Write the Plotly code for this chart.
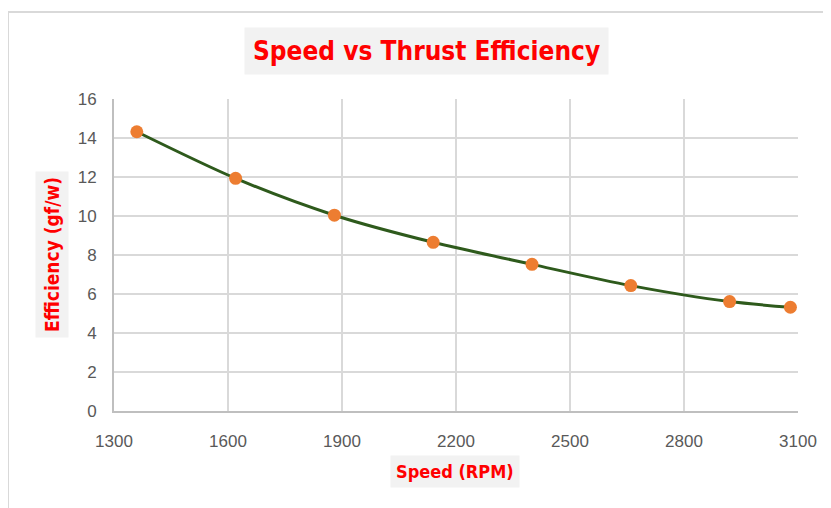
import plotly.graph_objects as go

speed_rpm = [1360, 1620, 1880, 2140, 2400, 2660, 2920, 3080]
efficiency = [14.32, 11.93, 10.04, 8.65, 7.52, 6.43, 5.61, 5.32]
x_ticks = [1300, 1600, 1900, 2200, 2500, 2800, 3100]
y_ticks = [0, 2, 4, 6, 8, 10, 12, 14, 16]

title_text = "Speed vs Thrust Efficiency"
x_title = "Speed (RPM)"
y_title = "Efficiency (gf/w)"

narrow = "Liberation Sans Narrow, Arial Narrow, DejaVu Sans Condensed, sans-serif"
tickfont = dict(family="Liberation Sans, Arial, sans-serif", size=17, color="#595959")

# page body has an 8px margin; compensate so the plot lands where the reference has it
OFF = 8
L, T, R, B = 114, 99, 798, 411  # plot area in window pixels
W = R - L
H = B - T


def px(xw):
    return (xw - L) / W


def py(yw):
    return (B - yw) / H


fig = go.Figure()
fig.add_trace(go.Scatter(
    x=speed_rpm, y=efficiency, mode="lines+markers",
    line=dict(color="#2e5a1c", width=3, shape="spline", smoothing=0.8),
    marker=dict(color="#ED7D31", size=13),
    showlegend=False,
))

fig.update_layout(
    width=831 - OFF, height=508 - OFF,
    paper_bgcolor="white", plot_bgcolor="white",
    margin=dict(l=L - OFF, r=831 - R, t=T - OFF, b=508 - B),
    xaxis=dict(range=[1300, 3100], tickvals=x_ticks, showgrid=True, gridcolor="#d9d9d9",
               gridwidth=2, zeroline=False, showline=True, linecolor="#bfbfbf", linewidth=2,
               tickfont=tickfont, ticks="", ticklabelstandoff=14, fixedrange=True),
    yaxis=dict(range=[0, 16], tickvals=y_ticks, showgrid=True, gridcolor="#d9d9d9",
               gridwidth=2, zeroline=False, showline=True, linecolor="#bfbfbf", linewidth=2,
               tickfont=tickfont, ticks="", ticklabelstandoff=12, fixedrange=True),
    shapes=[dict(type="rect", xref="paper", yref="paper",
                 x0=px(8), x1=px(845), y0=py(525), y1=py(12),
                 line=dict(color="#d9d9d9", width=2), fillcolor="rgba(0,0,0,0)", layer="below")],
    annotations=[
        dict(text="<b>" + title_text + "</b>", xref="paper", yref="paper",
             x=px(426), y=py(51), xanchor="center", yanchor="middle",
             showarrow=False, bgcolor="#f2f2f2", borderpad=8,
             font=dict(family=narrow, size=26, color="#ff0000")),
        dict(text="<b>" + x_title + "</b>", xref="paper", yref="paper",
             x=px(455), y=py(471), xanchor="center", yanchor="middle",
             showarrow=False, bgcolor="#f2f2f2", borderpad=5,
             font=dict(family=narrow, size=18, color="#ff0000")),
        dict(text="<b>" + y_title + "</b>", xref="paper", yref="paper",
             x=px(52), y=py(255), xanchor="center", yanchor="middle",
             showarrow=False, bgcolor="#f2f2f2", borderpad=5, textangle=-90,
             font=dict(family=narrow, size=19, color="#ff0000")),
    ],
)

fig.write_html("out.html")
